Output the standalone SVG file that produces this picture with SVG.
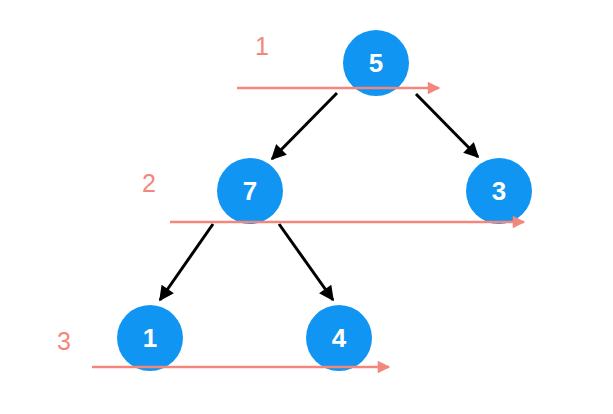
<svg xmlns="http://www.w3.org/2000/svg" width="613" height="414" viewBox="0 0 613 414">
<style>
.node circle{fill:#1195F2}
.node text{fill:#fff;font-family:"Liberation Sans",Arial,sans-serif;font-weight:bold;font-size:26px;text-anchor:middle}
.edge{stroke:#000;stroke-width:3;fill:none}
.level{stroke:#F4877C;stroke-width:2.5;fill:none}
.lbl{fill:#F4877C;font-family:"Liberation Sans",Arial,sans-serif;font-size:25px;text-anchor:middle}
</style>
<defs>
<marker id="ah" viewBox="0 0 10 10" refX="9" refY="5" markerWidth="5.5" markerHeight="5" orient="auto" markerUnits="strokeWidth">
<path d="M0,0 L10,5 L0,10 z" fill="#000"/>
</marker>
<marker id="rh" viewBox="0 0 10 10" refX="9" refY="5" markerWidth="5.5" markerHeight="5" orient="auto" markerUnits="strokeWidth">
<path d="M0,0 L10,5 L0,10 z" fill="#F4877C"/>
</marker>
</defs>
<rect width="613" height="414" fill="#fff"/>
<g id="edges">
<line class="edge" x1="337" y1="93" x2="272" y2="159" marker-end="url(#ah)"/>
<line class="edge" x1="416" y1="94" x2="478" y2="157" marker-end="url(#ah)"/>
<line class="edge" x1="213" y1="224" x2="160" y2="300" marker-end="url(#ah)"/>
<line class="edge" x1="279" y1="224" x2="333" y2="300" marker-end="url(#ah)"/>
</g>
<g id="n5" class="node"><circle cx="376" cy="63" r="33"/><text x="376" y="72">5</text></g>
<g id="n7" class="node"><circle cx="250" cy="191" r="33"/><text x="250" y="200">7</text></g>
<g id="n3" class="node"><circle cx="499" cy="191" r="33"/><text x="499" y="200">3</text></g>
<g id="n1" class="node"><circle cx="150" cy="338" r="33"/><text x="150" y="347">1</text></g>
<g id="n4" class="node"><circle cx="339" cy="338" r="33"/><text x="339" y="347">4</text></g>
<g id="levels">
<line class="level" x1="237" y1="88" x2="439" y2="88" marker-end="url(#rh)"/>
<line class="level" x1="170" y1="222" x2="524" y2="222" marker-end="url(#rh)"/>
<line class="level" x1="92" y1="367" x2="389" y2="367" marker-end="url(#rh)"/>
<text class="lbl" x="262" y="55">1</text>
<text class="lbl" x="149" y="192">2</text>
<text class="lbl" x="64" y="350">3</text>
</g>
</svg>
